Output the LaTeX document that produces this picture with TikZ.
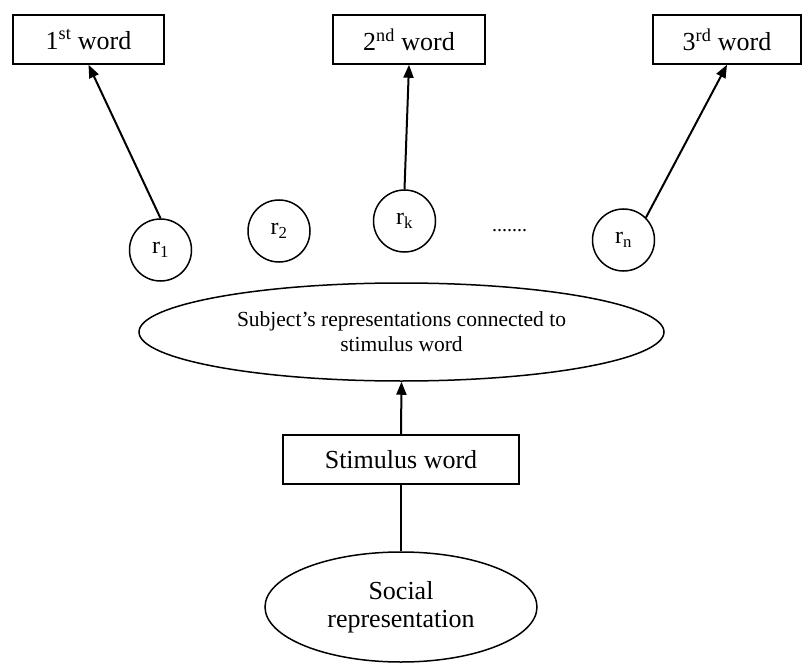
\documentclass[tikz,border=0pt]{standalone}
\usepackage{fontspec}
\setmainfont{Liberation Serif}
\usetikzlibrary{shapes.geometric,arrows.meta}
\tikzset{
  wordbox/.style={draw, line width=1.5pt, minimum height=49pt, inner sep=0pt, font=\fontsize{26}{30}\selectfont},
  rcirc/.style={draw, ellipse, line width=1.5pt, minimum width=62pt, minimum height=62pt, inner sep=0pt, font=\fontsize{24}{28}\selectfont},
  bigell/.style={draw, ellipse, line width=1.5pt, inner sep=0pt, align=center},
  arr/.style={line width=2pt, -{Triangle[length=13pt,width=10pt]}},
  plain/.style={line width=2pt}
}
\begin{document}
\begin{tikzpicture}[x=1pt,y=-1pt]
\useasboundingbox (0,0) rectangle (803,663);
\node[wordbox, minimum width=151pt] (w1) at (88.5,39.5) {1\textsuperscript{st} word};
\node[wordbox, minimum width=152pt] (w2) at (409,39.5) {2\textsuperscript{nd} word};
\node[wordbox, minimum width=148pt] (w3) at (727,39.5) {3\textsuperscript{rd} word};
\node[rcirc] (r1) at (160.5,250) {r\textsubscript{1}};
\node[rcirc] (r2) at (279,231) {r\textsubscript{2}};
\node[rcirc] (rk) at (404.5,221) {r\textsubscript{k}};
\node[font=\fontsize{20}{24}\selectfont] (dots) at (509.5,231) {.......};
\node[rcirc] (rn) at (623.5,240) {r\textsubscript{n}};
\node[bigell, minimum width=525pt, minimum height=98pt, font=\fontsize{21.5}{25}\selectfont] (subj) at (401.5,332) {Subject's representations connected to\\stimulus word};
\node[wordbox, minimum width=236pt] (stim) at (401,459.5) {Stimulus word};
\node[bigell, minimum width=272pt, minimum height=110pt, font=\fontsize{26}{28}\selectfont] (soc) at (401,607) {Social\\representation};
\draw[arr] (r1.north) -- (w1.south);
\draw[arr] (rk.north) -- (w2.south);
\draw[arr] (rn.north east) -- (w3.south);
\draw[arr] (stim.north) -- (subj.south);
\draw[plain] (soc.north) -- (stim.south);
\end{tikzpicture}
\end{document}
